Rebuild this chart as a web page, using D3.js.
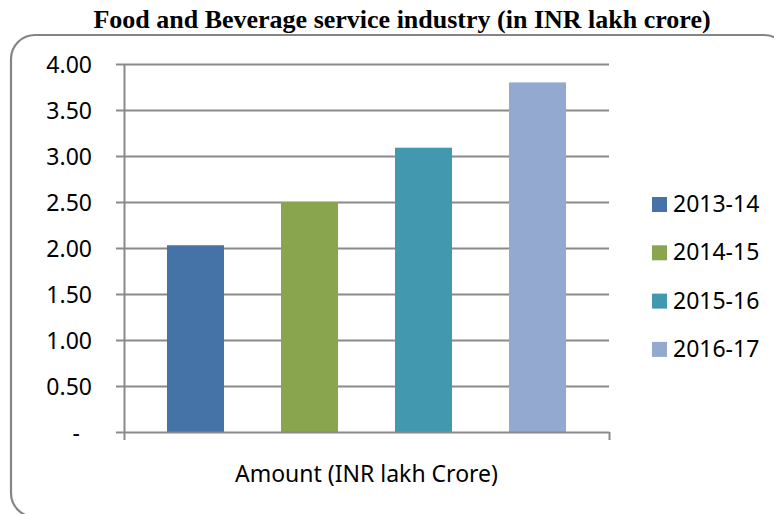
<!DOCTYPE html>
<html>
<head>
<meta charset="utf-8">
<script src="https://cdn.jsdelivr.net/npm/d3@7"></script>
<style>
  html, body { margin: 0; padding: 0; background: #fff; overflow: hidden; }
  svg { display: block; }
  text { font-family: "Noto Sans", "Open Sans", sans-serif; fill: #000; }
</style>
</head>
<body>
<svg id="chart" width="774" height="514"></svg>
<script>
const titleText = "Food and Beverage service industry (in INR lakh crore)";
const categoryLabel = "Amount (INR lakh Crore)";
const seriesNames = ["2013-14", "2014-15", "2015-16", "2016-17"];
const seriesValues = [2.03, 2.50, 3.09, 3.80];
const seriesColors = ["#4572A7", "#89A54E", "#4198AF", "#93A9CF"];
const yTicks = [0, 0.5, 1.0, 1.5, 2.0, 2.5, 3.0, 3.5, 4.0];

const svg = d3.select("#chart");
const axisColor = "#8a8a8a";

// frame (extends past right and bottom edges as in the reference)
svg.append("rect")
  .attr("x", 11).attr("y", 35)
  .attr("width", 777).attr("height", 482)
  .attr("rx", 24).attr("ry", 24)
  .attr("fill", "none").attr("stroke", "#858585").attr("stroke-width", 2.2);

// title
svg.append("text")
  .attr("x", 402).attr("y", 28)
  .attr("text-anchor", "middle")
  .style("font-family", "'Liberation Serif', 'Times New Roman', serif")
  .style("font-weight", "bold")
  .style("font-size", "26px")
  .text(titleText);

const plot = { left: 124, right: 609, top: 64, bottom: 432 };

const y = d3.scaleLinear().domain([0, 4]).range([plot.bottom, plot.top]);
const x = d3.scaleBand().domain(seriesNames)
  .range([plot.left, plot.right])
  .paddingInner(0.5).paddingOuter(0.377);

// gridlines
const grid = svg.append("g")
  .attr("transform", `translate(${plot.left},0)`)
  .call(d3.axisLeft(y).tickValues(yTicks.filter(d => d > 0))
    .tickSize(-(plot.right - plot.left)).tickFormat(""));
grid.select(".domain").remove();
grid.selectAll("line").attr("stroke", axisColor).attr("stroke-width", 2);

// bars
svg.append("g").selectAll("rect")
  .data(seriesNames)
  .join("rect")
  .attr("x", d => x(d))
  .attr("width", x.bandwidth())
  .attr("y", (d, i) => y(seriesValues[i]))
  .attr("height", (d, i) => y(0) - y(seriesValues[i]))
  .attr("fill", (d, i) => seriesColors[i]);

// y axis
const yAxis = svg.append("g")
  .attr("transform", `translate(${plot.left},0)`)
  .call(d3.axisLeft(y).tickValues(yTicks)
    .tickSize(8).tickSizeOuter(0).tickPadding(24)
    .tickFormat(d => d === 0 ? "-" : d.toFixed(2)));
yAxis.select(".domain").attr("stroke", axisColor).attr("stroke-width", 2);
yAxis.selectAll("line").attr("stroke", axisColor).attr("stroke-width", 2);
yAxis.selectAll("text")
  .style("font-size", "23px")
  .attr("fill", "#000")
  .attr("dy", "0.36em")
  .filter(d => d === 0).attr("dx", -12);

// x axis
const xEdge = d3.scaleLinear().domain([0, 1]).range([plot.left, plot.right]);
const xAxis = svg.append("g")
  .attr("transform", `translate(0,${plot.bottom})`)
  .call(d3.axisBottom(xEdge).tickValues([0, 1]).tickFormat("")
    .tickSize(8).tickSizeOuter(0));
xAxis.select(".domain").attr("stroke", axisColor).attr("stroke-width", 2);
xAxis.selectAll("line").attr("stroke", axisColor).attr("stroke-width", 2);

// category label
svg.append("text")
  .attr("x", (plot.left + plot.right) / 2)
  .attr("y", 482)
  .attr("text-anchor", "middle")
  .style("font-size", "23px")
  .text(categoryLabel);

// legend
const legend = svg.append("g").attr("transform", "translate(652,197)");
const items = legend.selectAll("g")
  .data(seriesNames)
  .join("g")
  .attr("transform", (d, i) => `translate(0,${i * 48.3})`);
items.append("rect")
  .attr("width", 15).attr("height", 15)
  .attr("fill", (d, i) => seriesColors[i]);
items.append("text")
  .attr("x", 21).attr("y", 15)
  .style("font-size", "23px")
  .text(d => d);
</script>
</body>
</html>
